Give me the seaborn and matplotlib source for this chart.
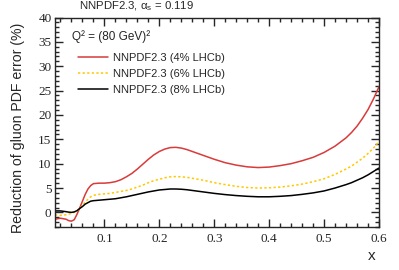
import matplotlib
matplotlib.use("Agg")
import matplotlib.pyplot as plt
import seaborn as sns
import pandas as pd
from matplotlib.ticker import MultipleLocator

x_vals = [0.01, 0.02, 0.03, 0.035, 0.04, 0.045, 0.05, 0.055, 0.06, 0.065,
          0.07, 0.075, 0.08, 0.09, 0.10, 0.11, 0.12, 0.13, 0.14, 0.15,
          0.16, 0.17, 0.18, 0.19, 0.20, 0.21, 0.22, 0.23, 0.24, 0.25,
          0.26, 0.27, 0.28, 0.29, 0.30, 0.32, 0.34, 0.36, 0.38, 0.40,
          0.42, 0.44, 0.46, 0.48, 0.50, 0.52, 0.54, 0.55, 0.56, 0.57,
          0.58, 0.59, 0.60]
red_4pct = [-1.4, -1.2, -1.4, -1.7, -1.8, -1.5, -0.4, 0.9, 2.3, 3.7,
            4.8, 5.5, 5.9, 6.0, 6.0, 6.1, 6.3, 6.7, 7.3, 8.0,
            8.9, 9.9, 10.9, 11.8, 12.5, 13.0, 13.3, 13.35, 13.2, 12.9,
            12.5, 12.1, 11.7, 11.3, 10.9, 10.2, 9.7, 9.35, 9.2, 9.3,
            9.6, 10.0, 10.6, 11.3, 12.3, 13.6, 15.3, 16.4, 17.7, 19.3,
            21.1, 23.3, 25.8]
yellow_6pct = [-0.5, -0.6, -0.5, -0.35, -0.2, 0.0, 0.3, 0.8, 1.4, 2.1,
               2.7, 3.2, 3.5, 3.7, 3.8, 3.9, 4.1, 4.3, 4.5, 4.8,
               5.2, 5.6, 6.1, 6.5, 6.8, 7.1, 7.3, 7.35, 7.3, 7.2,
               7.0, 6.8, 6.6, 6.35, 6.1, 5.7, 5.35, 5.1, 5.0, 5.05,
               5.2, 5.45, 5.8, 6.3, 6.9, 7.8, 8.9, 9.5, 10.3, 11.1,
               12.1, 13.2, 14.5]
black_8pct = [0.3, 0.3, 0.15, 0.05, 0.0, 0.1, 0.35, 0.8, 1.2, 1.7,
              2.0, 2.3, 2.4, 2.5, 2.6, 2.7, 2.8, 3.0, 3.2, 3.45,
              3.7, 3.95, 4.2, 4.4, 4.6, 4.7, 4.8, 4.8, 4.75, 4.65,
              4.5, 4.35, 4.2, 4.05, 3.9, 3.65, 3.45, 3.3, 3.2, 3.2,
              3.3, 3.45, 3.7, 4.0, 4.4, 5.0, 5.7, 6.1, 6.6, 7.1,
              7.7, 8.4, 9.1]
labels = ["NNPDF2.3 (4% LHCb)", "NNPDF2.3 (6% LHCb)", "NNPDF2.3 (8% LHCb)"]
x_ticks = [0.1, 0.2, 0.3, 0.4, 0.5, 0.6]
y_ticks = [0, 5, 10, 15, 20, 25, 30, 35, 40]

sns.set_style("ticks")
plt.rcParams["font.family"] = ["Liberation Sans", "DejaVu Sans"]
plt.rcParams["mathtext.fontset"] = "custom"
plt.rcParams["mathtext.rm"] = "Liberation Sans"
plt.rcParams["mathtext.it"] = "Liberation Sans"

fig = plt.figure(figsize=(3.99, 2.70), dpi=100)
ax = fig.add_axes([55/399, 43/270, (379-55)/399, (227-17.5)/270])

series = [(red_4pct, "#d93a3a", "-"), (yellow_6pct, "#ffc800", (0, (1.5, 1.5))), (black_8pct, "#000000", "-")]
for (vals, col, ls), lab in zip(series, labels):
    df = pd.DataFrame({"x": x_vals, "y": vals})
    sns.lineplot(data=df, x="x", y="y", ax=ax, color=col, linestyle=ls, linewidth=1.1, label=lab)

ax.set_xlim(0.01, 0.6)
ax.set_ylim(-3, 40)
ax.set_xticks(x_ticks)
ax.set_yticks(y_ticks)
ax.xaxis.set_minor_locator(MultipleLocator(0.02))
ax.yaxis.set_minor_locator(MultipleLocator(1))
ax.tick_params(which="both", direction="in", top=True, right=True, width=1.0,
               labelfontfamily="Liberation Serif", labelsize=9.5)
ax.tick_params(which="major", length=6)
ax.tick_params(which="minor", length=3)
ax.tick_params(axis="x", pad=4)
ax.tick_params(axis="y", pad=2.5)
for sp in ax.spines.values():
    sp.set_linewidth(1.0)
    sp.set_visible(True)
ax.set_xlabel("")
ax.set_ylabel("")

fig.text(18/399, 1 - 128/270, "Reduction of gluon PDF error (%)", rotation=90,
         ha="center", va="center", fontsize=10.2)
fig.text(372/399, 1 - 256/270, "x", ha="center", va="center", fontsize=11)
fig.text(79/399, 1 - 9.5/270, r"NNPDF2.3, $\alpha_\mathrm{s}$ = 0.119", ha="left", va="baseline", fontsize=8.2)
fig.text(72/399, 1 - 40/270, "Q² = (80 GeV)²", ha="left", va="baseline", fontsize=8.5)

ax.legend(loc="upper left", bbox_to_anchor=(78/399, 1 - 53/270), bbox_transform=fig.transFigure,
          frameon=False, fontsize=8, handlelength=2.7, handletextpad=0.45, labelspacing=0.55,
          borderpad=0, borderaxespad=0)

fig.savefig("out.png", dpi=100)
